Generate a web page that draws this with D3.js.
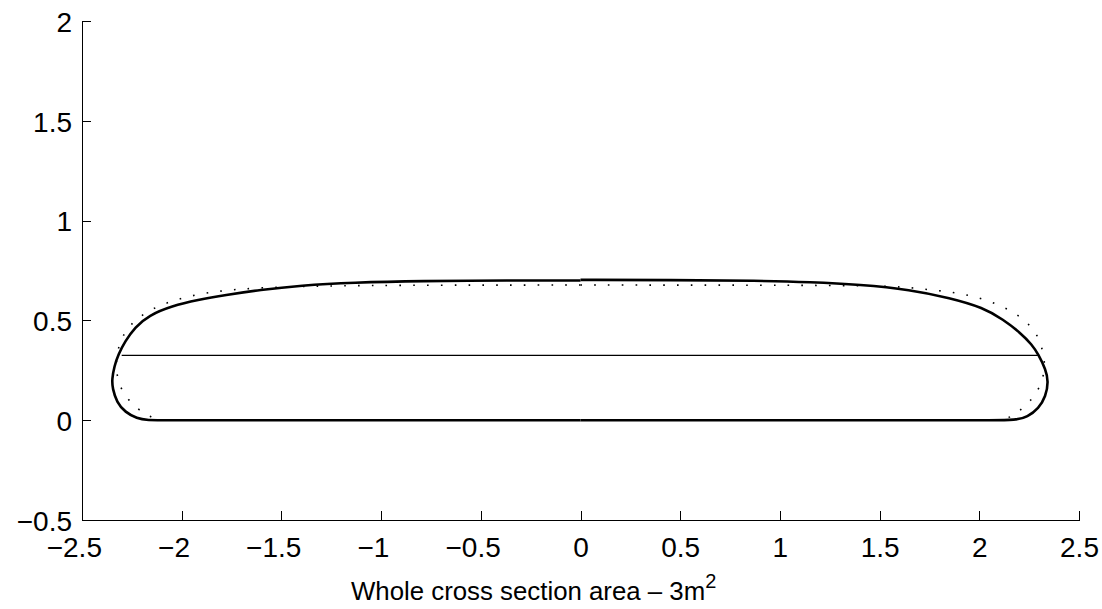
<!DOCTYPE html>
<html>
<head>
<meta charset="utf-8">
<script src="https://cdn.jsdelivr.net/npm/d3@7"></script>
<style>
  html, body { margin: 0; padding: 0; background: #fff; }
  svg { display: block; }
  text { font-family: "Liberation Sans", Arial, Helvetica, sans-serif; fill: #000; }
</style>
</head>
<body>
<svg id="chart" width="1102" height="609"></svg>
<script>
// Tick values for both axes
const xTicks = [-2.5, -2, -1.5, -1, -0.5, 0, 0.5, 1, 1.5, 2, 2.5];
const yTicks = [-0.5, 0, 0.5, 1, 1.5, 2];

// Solid section outline, left half: top centre, round the left end, then along the flat bottom to centre
const solidLeftX = [0, 0, -0.353, -0.804, -1.141, -1.406, -1.607, -1.783, -1.918, -2.050, -2.165, -2.234, -2.284, -2.318, -2.338, -2.350, -2.347, -2.326, -2.284, -2.222, -2.180, -2.05, -1.9, 0];
const solidLeftY = [0.700, 0.700, 0.700, 0.698, 0.690, 0.675, 0.653, 0.627, 0.603, 0.572, 0.525, 0.466, 0.395, 0.329, 0.270, 0.204, 0.160, 0.090, 0.040, 0.008, 0, 0, 0, 0];

// Solid section outline, right half: top centre, round the right end, then along the flat bottom to centre
const solidRightX = [0, 0, 0.45, 0.901, 1.152, 1.403, 1.654, 1.854, 2.020, 2.120, 2.205, 2.264, 2.297, 2.333, 2.347, 2.333, 2.298, 2.241, 2.185, 2.05, 1.9, 0];
const solidRightY = [0.703, 0.703, 0.702, 0.699, 0.692, 0.679, 0.654, 0.612, 0.564, 0.504, 0.439, 0.379, 0.329, 0.254, 0.195, 0.118, 0.060, 0.016, 0, 0, 0, 0];

// Water line across the section
const levelY = 0.325;
const levelX = [-2.301, 2.297];

// Dotted comparison outline, left half
const dotLeftX = [0, 0, -0.7, -1.406, -1.679, -1.749, -1.816, -1.883, -1.953, -2.017, -2.084, -2.145, -2.206, -2.256, -2.296, -2.318, -2.329, -2.326, -2.309, -2.273, -2.223, -2.167, -2.12, -2.0, -1.9, 0];
const dotLeftY = [0.677, 0.677, 0.677, 0.673, 0.659, 0.653, 0.646, 0.636, 0.623, 0.606, 0.585, 0.558, 0.522, 0.479, 0.424, 0.362, 0.300, 0.229, 0.167, 0.107, 0.057, 0.022, 0, 0, 0, 0];

// Dotted comparison outline, right half
const dotRightX = [0, 0, 0.7, 1.386, 1.587, 1.662, 1.729, 1.799, 1.868, 1.935, 2.001, 2.067, 2.130, 2.189, 2.242, 2.286, 2.311, 2.326, 2.328, 2.309, 2.277, 2.222, 2.169, 2.12, 2.0, 1.9, 0];
const dotRightY = [0.677, 0.677, 0.677, 0.675, 0.669, 0.663, 0.656, 0.649, 0.640, 0.628, 0.612, 0.590, 0.562, 0.530, 0.487, 0.437, 0.374, 0.312, 0.249, 0.179, 0.120, 0.062, 0.022, 0, 0, 0, 0];

const svg = d3.select("#chart");
const x = d3.scaleLinear().domain([-2.5, 2.5]).range([82, 1079]);
const y = d3.scaleLinear().domain([-0.5, 2]).range([520, 21]);

const fontSize = 28;

// Bottom axis: ticks point into the plot, digits centred, minus sign hangs to the left
const gx = svg.append("g")
  .attr("transform", `translate(0,${y(-0.5)})`)
  .call(d3.axisBottom(x).tickValues(xTicks).tickFormat(v => String(Math.abs(v)))
    .tickSizeInner(-9).tickSizeOuter(0).tickPadding(17));
// Left axis
const gy = svg.append("g")
  .attr("transform", `translate(${x(-2.5)},0)`)
  .call(d3.axisLeft(y).tickValues(yTicks).tickFormat(v => (v < 0 ? "\u2212" : "") + Math.abs(v))
    .tickSizeInner(-9).tickSizeOuter(0).tickPadding(10));

[gx, gy].forEach(g => {
  g.attr("font-family", null).attr("font-size", null);
  g.selectAll(".domain, .tick line").attr("stroke", "#000").attr("stroke-width", 1).attr("shape-rendering", "crispEdges");
  g.selectAll("text").style("font-size", fontSize + "px");
});
gy.selectAll(".tick text").attr("dy", "0.37em");

gx.selectAll(".tick").each(function(d) {
  if (d < 0) {
    const t = d3.select(this).select("text");
    const w = t.node().getComputedTextLength();
    d3.select(this).append("text")
      .attr("x", -w / 2)
      .attr("y", t.attr("y"))
      .attr("dy", t.attr("dy"))
      .attr("text-anchor", "end")
      .style("font-size", fontSize + "px")
      .text("\u2212");
  }
});

// Curved part drawn as a smoothing B-spline, final run along the bottom as a straight segment
const spline = d3.line().curve(d3.curveBasis);
function outlinePath(xs, ys) {
  const p = xs.map((v, i) => [x(v), y(ys[i])]);
  const last = p[p.length - 1];
  return spline(p.slice(0, -1)) + `L${last[0]},${last[1]}`;
}

// Dotted outline halves
[[dotLeftX, dotLeftY], [dotRightX, dotRightY]].forEach(([xs, ys]) => {
  svg.append("path")
    .attr("d", outlinePath(xs, ys))
    .attr("fill", "none")
    .attr("stroke", "#000")
    .attr("stroke-width", 1.6)
    .attr("stroke-dasharray", "1.6 12.2");
});

// Water line
svg.append("line")
  .attr("x1", x(levelX[0])).attr("x2", x(levelX[1]))
  .attr("y1", y(levelY)).attr("y2", y(levelY))
  .attr("stroke", "#000").attr("stroke-width", 1.1);

// Solid outline halves
[[solidLeftX, solidLeftY], [solidRightX, solidRightY]].forEach(([xs, ys]) => {
  svg.append("path")
    .attr("d", outlinePath(xs, ys))
    .attr("fill", "none")
    .attr("stroke", "#000")
    .attr("stroke-width", 2.6)
    .attr("stroke-linejoin", "round");
});

// Axis title
const title = svg.append("text")
  .attr("x", 351).attr("y", 600)
  .style("font-size", "25.8px");
title.append("tspan").text("Whole cross section area \u2013 3m");
title.append("tspan").attr("dy", -12).style("font-size", "20px").text("2");
</script>
</body>
</html>
